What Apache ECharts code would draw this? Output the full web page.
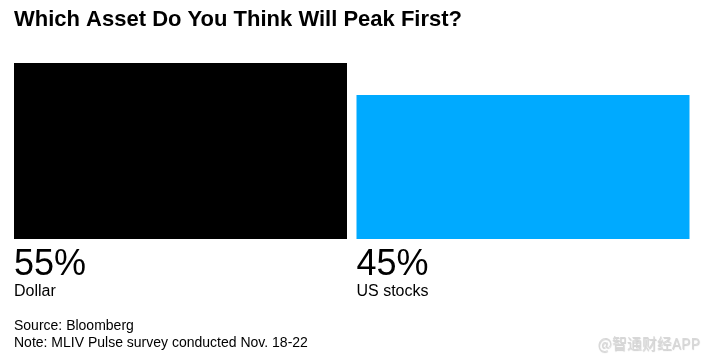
<!DOCTYPE html>
<html>
<head>
<meta charset="utf-8">
<script src="https://cdn.jsdelivr.net/npm/echarts@6/dist/echarts.min.js"></script>
<style>html,body{margin:0;padding:0;background:#fff;}#c{width:709px;height:363px;}</style>
</head>
<body>
<div id="c"></div>
<script>
const categories = ['Dollar', 'US stocks'];
const values = [55, 45];
const colors = ['#000000', '#00aaff'];

const chart = echarts.init(document.getElementById('c'), null, {renderer: 'canvas'});
chart.setOption({
  backgroundColor: '#ffffff',
  animation: false,
  title: {
    text: 'Which Asset Do You Think Will Peak First?',
    left: 14, top: 9, padding: 0,
    textStyle: {fontFamily: 'Liberation Sans, Arial', fontWeight: 'bold', fontSize: 22, color: '#000'}
  },
  grid: {left: 9.25, right: 14.75, top: 63, bottom: 124},
  xAxis: {type: 'category', data: categories, show: false},
  yAxis: {type: 'value', min: 0, max: 55, show: false},
  series: [{
    type: 'bar',
    barWidth: 333,
    data: values.map((v, i) => ({value: v, itemStyle: {color: colors[i]}})),
    label: {
      show: true,
      position: [0, '100%'],
      offset: [0, 8],
      distance: 0,
      align: 'left',
      verticalAlign: 'top',
      formatter: '{v|{c}%}\n{n|{b}}',
      rich: {
        v: {fontFamily: 'Liberation Sans, Arial', fontSize: 36, lineHeight: 37, color: '#000'},
        n: {fontFamily: 'Liberation Sans, Arial', fontSize: 16, lineHeight: 16, color: '#000'}
      }
    }
  }],
  graphic: [
    {type: 'text', left: 14, top: 319, style: {text: 'Source: Bloomberg', fontFamily: 'Liberation Sans, Arial', fontSize: 14, fill: '#000'}},
    {type: 'text', left: 14, top: 336, style: {text: 'Note: MLIV Pulse survey conducted Nov. 18-22', fontFamily: 'Liberation Sans, Arial', fontSize: 14, fill: '#000'}},
    {type: 'text', right: 9, top: 336, style: {text: '@智通财经APP', fontFamily: 'Noto Sans CJK SC', fontSize: 15, fill: '#d8d8d8', textShadowColor: 'rgba(0,0,0,0.2)', textShadowBlur: 1, textShadowOffsetX: 0.5, textShadowOffsetY: 0.5}}
  ]
});
</script>
</body>
</html>
